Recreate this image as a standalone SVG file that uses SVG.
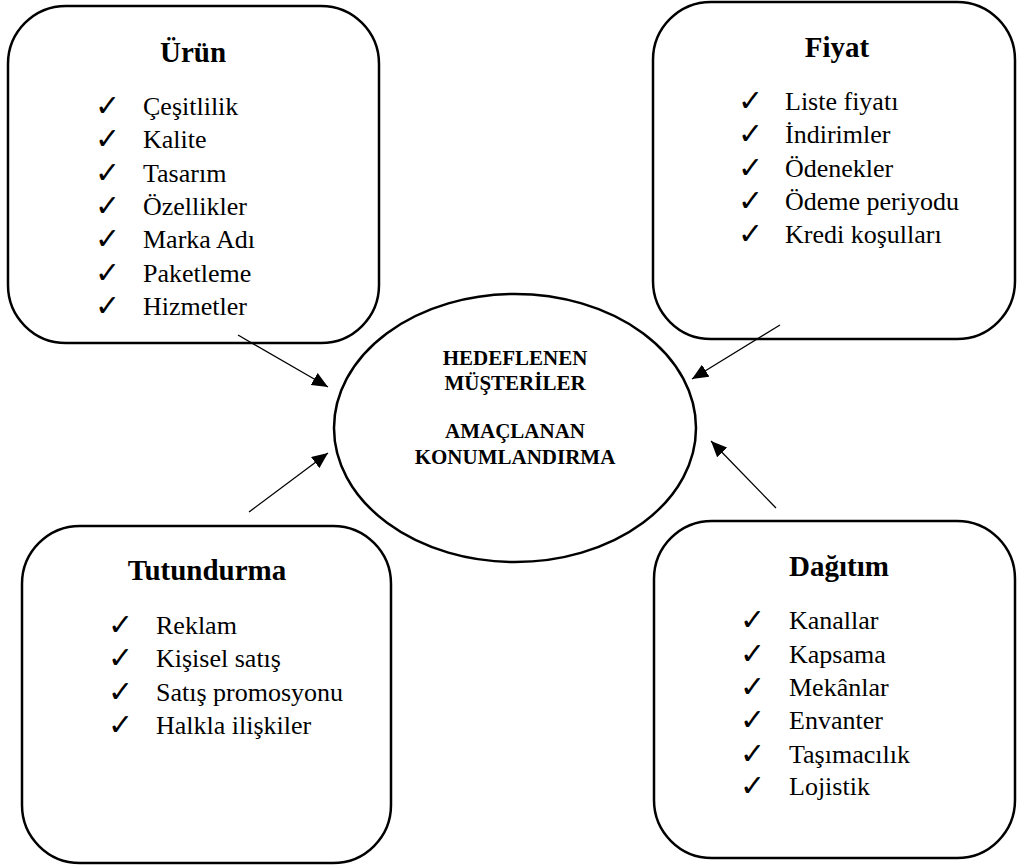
<svg xmlns="http://www.w3.org/2000/svg" width="1017" height="867" viewBox="0 0 1017 867">
  <style>
    .box { fill: #fff; stroke: #000; stroke-width: 2.5; }
    .hub { fill: #fff; stroke: #000; stroke-width: 2.5; }
    .title { font-family: "Liberation Serif", "Times New Roman", serif; font-weight: bold; font-size: 29px; text-anchor: middle; fill: #000; }
    .item { font-family: "Liberation Serif", "Times New Roman", serif; font-size: 26px; fill: #000; }
    .tick { font-family: "DejaVu Sans", sans-serif; font-size: 30px; fill: #000; }
    .hubtext { font-family: "Liberation Serif", "Times New Roman", serif; font-weight: bold; font-size: 21px; text-anchor: middle; fill: #000; }
    .link { stroke: #000; stroke-width: 1.3; fill: none; marker-end: url(#head); }
  </style>
  <defs>
    <marker id="head" markerUnits="userSpaceOnUse" markerWidth="18" markerHeight="14" refX="16" refY="7" orient="auto">
      <path d="M0,0 L16,7 L0,14 Z" fill="#000"/>
    </marker>
  </defs>
  <rect width="1017" height="867" fill="#fff"/>

  <!-- Product -->
  <g id="urun">
    <rect class="box" x="8" y="6" width="371" height="337" rx="58" ry="58"/>
    <text class="title" x="193" y="62">Ürün</text>
    <g class="tick">
      <text x="95" y="116">✓</text><text x="95" y="149">✓</text><text x="95" y="183">✓</text>
      <text x="95" y="216">✓</text><text x="95" y="249">✓</text><text x="95" y="283">✓</text>
      <text x="95" y="316">✓</text>
    </g>
    <g class="item">
      <text x="143" y="115">Çeşitlilik</text>
      <text x="143" y="148">Kalite</text>
      <text x="143" y="182">Tasarım</text>
      <text x="143" y="215">Özellikler</text>
      <text x="143" y="248">Marka Adı</text>
      <text x="143" y="282">Paketleme</text>
      <text x="143" y="315">Hizmetler</text>
    </g>
  </g>

  <!-- Price -->
  <g id="fiyat">
    <rect class="box" x="653" y="2" width="362" height="337" rx="58" ry="58"/>
    <text class="title" x="837" y="57">Fiyat</text>
    <g class="tick">
      <text x="738" y="111">✓</text><text x="738" y="144">✓</text><text x="738" y="178">✓</text>
      <text x="738" y="211">✓</text><text x="738" y="244">✓</text>
    </g>
    <g class="item">
      <text x="785" y="110">Liste fiyatı</text>
      <text x="785" y="143">İndirimler</text>
      <text x="785" y="177">Ödenekler</text>
      <text x="785" y="210">Ödeme periyodu</text>
      <text x="785" y="243">Kredi koşulları</text>
    </g>
  </g>

  <!-- Target market -->
  <g id="hedef">
    <ellipse class="hub" cx="515" cy="428" rx="181" ry="134"/>
    <text class="hubtext" x="515" y="365">HEDEFLENEN</text>
    <text class="hubtext" x="515" y="390">MÜŞTERİLER</text>
    <text class="hubtext" x="515" y="438">AMAÇLANAN</text>
    <text class="hubtext" x="515" y="464">KONUMLANDIRMA</text>
  </g>

  <!-- Promotion -->
  <g id="tutundurma">
    <rect class="box" x="22" y="526" width="369" height="337" rx="58" ry="58"/>
    <text class="title" x="207" y="580">Tutundurma</text>
    <g class="tick">
      <text x="108" y="635">✓</text><text x="108" y="668">✓</text><text x="108" y="702">✓</text>
      <text x="108" y="735">✓</text>
    </g>
    <g class="item">
      <text x="156" y="634">Reklam</text>
      <text x="156" y="667">Kişisel satış</text>
      <text x="156" y="701">Satış promosyonu</text>
      <text x="156" y="734">Halkla ilişkiler</text>
    </g>
  </g>

  <!-- Distribution -->
  <g id="dagitim">
    <rect class="box" x="654" y="521" width="361" height="337" rx="58" ry="58"/>
    <text class="title" x="839" y="576">Dağıtım</text>
    <g class="tick">
      <text x="740" y="630">✓</text><text x="740" y="664">✓</text><text x="740" y="697">✓</text>
      <text x="740" y="730">✓</text><text x="740" y="764">✓</text><text x="740" y="796">✓</text>
    </g>
    <g class="item">
      <text x="789" y="629">Kanallar</text>
      <text x="789" y="663">Kapsama</text>
      <text x="789" y="696">Mekânlar</text>
      <text x="789" y="729">Envanter</text>
      <text x="789" y="763">Taşımacılık</text>
      <text x="789" y="795">Lojistik</text>
    </g>
  </g>

  <!-- Connectors -->
  <g id="connectors">
    <line class="link" x1="238" y1="335" x2="328" y2="387"/>
    <line class="link" x1="780" y1="325" x2="692" y2="379"/>
    <line class="link" x1="249" y1="512" x2="328" y2="453"/>
    <line class="link" x1="776" y1="508" x2="711" y2="441"/>
  </g>
</svg>
